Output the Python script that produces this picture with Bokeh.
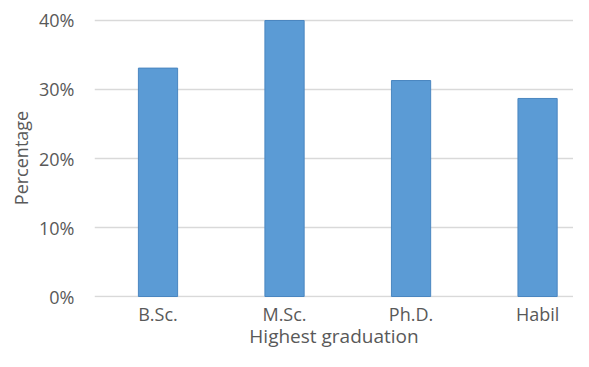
from bokeh.plotting import figure
from bokeh.models import Range1d, FixedTicker, NumeralTickFormatter, ColumnDataSource
from bokeh.embed import file_html
from bokeh.resources import INLINE

categories = ["B.Sc.", "M.Sc.", "Ph.D.", "Habil"]
values = [0.331, 0.400, 0.313, 0.287]
y_ticks = [0, 0.1, 0.2, 0.3, 0.4]

FONT = "Open Sans"
TEXT_COLOR = "#595959"

xs = list(range(len(categories)))
src = ColumnDataSource(dict(x=xs, top=values))

p = figure(width=573, height=351, output_backend="svg", toolbar_location=None,
           x_range=Range1d(-0.502, 3.284), y_range=Range1d(-0.00144, 0.40289),
           min_border_left=94, min_border_right=0, min_border_top=18, min_border_bottom=53)
p.outline_line_color = None

p.vbar(x="x", top="top", width=0.31, bottom=0, source=src,
       fill_color="#5B9BD5", line_color="#4A86C0", line_width=1)

p.xaxis.ticker = FixedTicker(ticks=xs)
p.xaxis.major_label_overrides = {i: c for i, c in enumerate(categories)}
p.yaxis.ticker = FixedTicker(ticks=y_ticks)
p.yaxis.formatter = NumeralTickFormatter(format="0%")

for ax in (p.xaxis[0], p.yaxis[0]):
    ax.axis_line_color = None
    ax.major_tick_line_color = None
    ax.minor_tick_line_color = None
    ax.major_tick_out = 0
    ax.major_tick_in = 0
    ax.minor_tick_out = 0
    ax.minor_tick_in = 0
    ax.major_label_text_font = FONT
    ax.major_label_text_font_size = "18px"
    ax.major_label_text_color = TEXT_COLOR
    ax.axis_label_text_font = FONT
    ax.axis_label_text_font_size = "18px"
    ax.axis_label_text_font_style = "normal"
    ax.axis_label_text_color = TEXT_COLOR

p.xaxis.axis_label = "Highest graduation"
p.xaxis.axis_label_text_font_size = "19px"
p.yaxis.axis_label = "Percentage"
p.xaxis.major_label_standoff = 4
p.xaxis.axis_label_standoff = -6
p.yaxis.major_label_standoff = 20
p.yaxis.axis_label_standoff = 3

p.xgrid.grid_line_color = None
p.ygrid.grid_line_color = "#D9D9D9"
p.ygrid.grid_line_width = 1.5

open("out.html", "w").write(file_html(p, INLINE))
